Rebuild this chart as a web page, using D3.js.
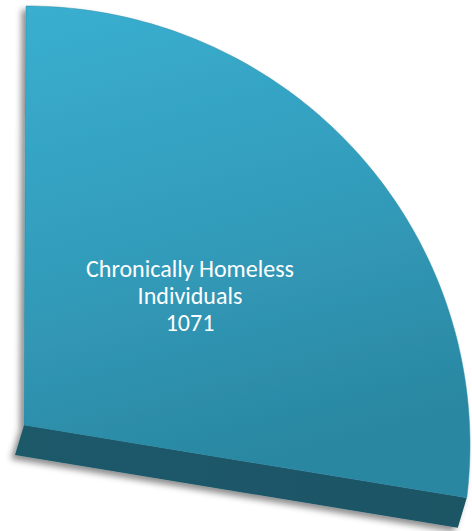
<!DOCTYPE html>
<html>
<head>
<meta charset="utf-8">
<script src="https://cdn.jsdelivr.net/npm/d3@7"></script>
<style>
  html, body { margin: 0; padding: 0; background: #ffffff; }
  svg { display: block; }
</style>
</head>
<body>
<script>
// ---- data ----
const categories = ["Chronically Homeless Individuals"];
const values = [1071];
const labelLines = [["Chronically Homeless", "Individuals", "1071"]];

// ---- layout ----
const W = 472, H = 531;
const svg = d3.select("body").append("svg").attr("width", W).attr("height", H);
const defs = svg.append("defs");

const topGrad = defs.append("linearGradient").attr("id", "topGrad")
  .attr("x1", "0").attr("y1", "0").attr("x2", "0.25").attr("y2", "1");
topGrad.append("stop").attr("offset", "0%").attr("stop-color", "#3aafd0");
topGrad.append("stop").attr("offset", "55%").attr("stop-color", "#329bba");
topGrad.append("stop").attr("offset", "100%").attr("stop-color", "#2a87a1");

const sideGrad = defs.append("linearGradient").attr("id", "sideGrad")
  .attr("x1", "0").attr("y1", "0").attr("x2", "1").attr("y2", "0");
sideGrad.append("stop").attr("offset", "0%").attr("stop-color", "#1b5a6b");
sideGrad.append("stop").attr("offset", "100%").attr("stop-color", "#1a5464");

const shadow = defs.append("filter").attr("id", "shadow")
  .attr("x", "-10%").attr("y", "-10%").attr("width", "120%").attr("height", "120%");
shadow.append("feDropShadow").attr("dx", -4).attr("dy", 4).attr("stdDeviation", 3)
  .attr("flood-color", "#000").attr("flood-opacity", 0.45);

// pie layout: the single slice spans a quarter of the (perspective) pie
const pie = d3.pie().sort(null).startAngle(0).endAngle(Math.PI / 2);
const arcs = pie(values);

// perspective projection of the pie rim: an ellipse on screen
const ell = { cx: 26, cy: 445, rx: 444, ry: 439 };
// pie angle -> ellipse parameter (degrees, 90 = top)
const angScale = d3.scaleLinear().domain([0, Math.PI / 2]).range([90, -6.9]);
const corner = [24, 425];        // wedge apex on top face
const depth = d3.scaleLinear().domain([0, 1]).range([[-2, 29], [-9, 30]]); // extrusion offsets along edge

function rimPoint(a) {
  const t = angScale(a) * Math.PI / 180;
  return [ell.cx + ell.rx * Math.cos(t), ell.cy - ell.ry * Math.sin(t)];
}

const g = svg.append("g").attr("filter", "url(#shadow)");

arcs.forEach((d, i) => {
  const n = 120;
  const pts = d3.range(n + 1).map(k => rimPoint(d.startAngle + (d.endAngle - d.startAngle) * k / n));
  const start = pts[0], end = pts[pts.length - 1];

  // side (thickness) face along the lower radial edge
  const d0 = depth(0), d1 = depth(1);
  const side = [
    corner,
    end,
    [end[0] + d1[0], end[1] + d1[1]],
    [corner[0] + d0[0], corner[1] + d0[1]]
  ];
  g.append("path")
    .attr("d", d3.line()(side) + "Z")
    .attr("fill", "url(#sideGrad)");

  // top face
  const top = [corner, [start[0], start[1]], ...pts.slice(1)];
  g.append("path")
    .attr("d", d3.line()(top) + "Z")
    .attr("fill", "url(#topGrad)")
    .attr("stroke", "#2a8aa5").attr("stroke-width", 0.8).attr("stroke-opacity", 0.6);

  // label
  const lines = labelLines[i];
  const text = svg.append("text")
    .attr("text-anchor", "middle")
    .attr("fill", "#ffffff")
    .style("font-family", "Carlito, Lato, 'Open Sans', sans-serif")
    .style("font-size", "20px");
  lines.forEach((s, k) => {
    text.append("tspan").attr("x", 190).attr("y", 277 + k * 27).text(s);
  });
  // scale font so that the first line matches the reference width
  const w0 = text.select("tspan").node().getComputedTextLength();
  const fs = 20 * 208 / w0;
  text.style("font-size", fs.toFixed(2) + "px");
});
</script>
</body>
</html>
